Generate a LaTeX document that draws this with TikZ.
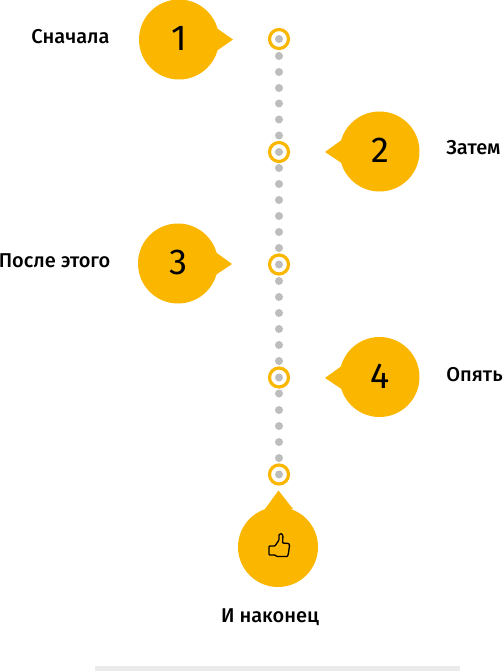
\documentclass[tikz,border=0pt]{standalone}
\usepackage{fontspec}
\setmainfont{Fira Sans Medium}
\newfontfamily\numfont{Fira Sans}
\definecolor{amber}{HTML}{FBB600}
\definecolor{dotgrey}{HTML}{BDBDBD}
\definecolor{bargrey}{HTML}{EBEBEB}
\tikzset{
  dotmark/.style={circle,fill=dotgrey,inner sep=0pt,minimum size=8pt},
  ringmark/.style={circle,draw=amber,line width=3.2pt,fill=white,inner sep=0pt,outer sep=0pt,minimum size=19pt},
  bubble/.style={circle,fill=amber,inner sep=0pt,minimum size=80pt},
  tipfill/.style={fill=amber},
  numlabel/.style={font=\numfont\fontsize{36}{38}\selectfont},
  caption/.style={font=\fontsize{20}{22}\selectfont,anchor=center,inner sep=0pt}
}
\begin{document}
\begin{tikzpicture}[x=1pt,y=-1pt]
\useasboundingbox (0,0) rectangle (503,671);
% dots
\foreach \yy in {56,72,88,103.5,119.5,135.5,168,184,200,216,232,248,281,297,313,329,345,361,393.5,410,426,442,458}
  \node[dotmark] at (279,\yy) {};
% rings
\foreach \nm/\yy in {ra/39,rb/152,rc/264.5,rd/377.5,re/474.5}{
  \node[ringmark] (\nm) at (279,\yy) {};
  \node[dotmark] at (279,\yy) {};
}
% bubbles
\fill[tipfill] (215,27) -- (233,39.5) -- (215,52) -- cycle;
\fill[tipfill] (343,139) -- (325,152) -- (343,164) -- cycle;
\fill[tipfill] (214,251) -- (232,264) -- (214,276) -- cycle;
\fill[tipfill] (343,365) -- (325,378) -- (343,390) -- cycle;
\fill[tipfill] (265,509) -- (278.5,490.5) -- (293,509) -- cycle;
\node[bubble] (b1) at (179,39.5) {};
\node[bubble] (b2) at (379.5,151.5) {};
\node[bubble] (b3) at (178,263.5) {};
\node[bubble] (b4) at (379.5,377) {};
\node[bubble] (b5) at (278,547) {};
\node[numlabel] at (179,38.5) {1};
\node[numlabel] at (380,150) {2};
\node[numlabel] at (178,262) {3};
\node[numlabel] at (380,376) {4};
% thumb icon
\draw[black,line width=1.3pt,line join=round,rounded corners=0.7pt]
  (269,546) -- (275,546) -- (279,540) -- (279,534.5) -- (281.5,533.5) -- (283,536) -- (282.5,543)
  -- (289,543.5) -- (289.5,546) -- (289,549) -- (288.5,553) -- (287.5,556.5) -- (277,556.5) -- (275,555)
  -- (269,555) -- cycle;
% captions
\node[caption] (c1) at (70.5,36.5) {Сначала};
\node[caption] (c2) at (473.5,148) {Затем};
\node[caption] (c3) at (54.5,260.5) {После этого};
\node[caption] (c4) at (474.5,375) {Опять};
\node[caption] (c5) at (270,617) {И наконец};
% bar
\fill[bargrey] (95,666) rectangle (460,671);
\end{tikzpicture}
\end{document}
